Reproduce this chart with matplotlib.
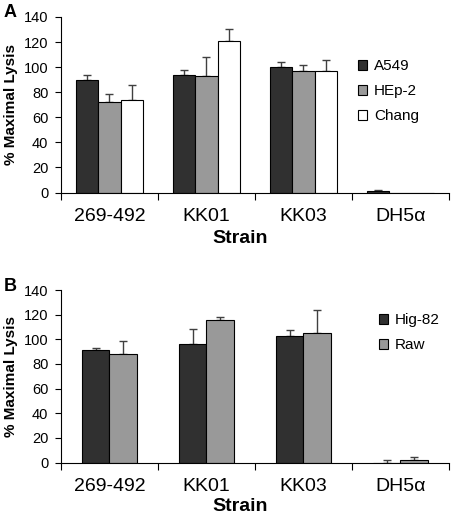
import matplotlib
matplotlib.use("Agg")
import matplotlib.pyplot as plt
import numpy as np

plt.rcParams['font.family'] = ['Liberation Sans', 'DejaVu Sans']

strains = ["269-492", "KK01", "KK03", "DH5\u03b1"]

# Panel A
a_series = ["A549", "HEp-2", "Chang"]
a_vals = [[90, 94, 100, 1.3],
          [72, 93, 97, 0],
          [74, 120.5, 97, 0]]
a_err = [[4, 3.5, 4, 1],
         [6.5, 15, 4.5, 0],
         [12, 10, 9, 0]]

# Panel B
b_series = ["Hig-82", "Raw"]
b_vals = [[91, 96, 103, 0],
          [88, 115.5, 105.5, 2.2]]
b_err = [[2.2, 12.5, 4.7, 2.4],
         [11, 2.5, 18, 2.4]]

colors = ["#303030", "#999999", "#ffffff"]
yticks = [0, 20, 40, 60, 80, 100, 120, 140]

W, H = 452, 515
fig = plt.figure(figsize=(W / 100, H / 100), dpi=100)


def axes_px(left, top, right, bottom):
    return fig.add_axes([left / W, 1 - bottom / H, (right - left) / W, (bottom - top) / H])


axA = axes_px(61, 17, 449, 192.5)
axB = axes_px(61, 290, 449, 462.5)


def draw(ax, series, vals, errs, width, leg_left_px, leg_top_px, top_px, bottom_px, strain_off):
    x = np.arange(len(strains))
    n = len(series)
    handles = []
    for i, (name, v, e) in enumerate(zip(series, vals, errs)):
        pos = x + (i - (n - 1) / 2) * width
        v = np.array(v, dtype=float)
        e = np.array(e, dtype=float)
        b = ax.bar(pos, v, width, color=colors[i], edgecolor="black",
                   linewidth=0.8, label=name, zorder=2)
        m = e > 0
        ax.errorbar(pos[m], v[m], yerr=[np.zeros(m.sum()), e[m]], fmt="none",
                    ecolor="#404040", elinewidth=1.0, capsize=3,
                    capthick=1.0, zorder=1)
        handles.append(b)
    ax.set_xlim(-0.5, len(strains) - 0.5)
    ax.set_ylim(0, 140)
    ax.set_yticks(yticks)
    ax.set_xticks(x)
    ax.set_xticklabels(strains, fontsize=14)
    ax.tick_params(axis="x", length=0, pad=11.5)
    ax.set_xticks(np.arange(len(strains) + 1) - 0.5, minor=True)
    ax.tick_params(axis="x", which="minor", length=5, direction="out", width=0.8)
    ax.tick_params(axis="y", labelsize=10.5, length=4, width=0.8, direction="out", pad=5)
    for s in ["top", "right"]:
        ax.spines[s].set_visible(False)
    ax.spines["left"].set_linewidth(0.8)
    ax.spines["bottom"].set_linewidth(0.8)
    h = bottom_px - top_px
    ax.set_xlabel("Strain", fontsize=14, fontweight="bold")
    ax.xaxis.label.set_va("center")
    ax.xaxis.set_label_coords((240 - 61) / 388, -strain_off / h)
    ax.set_ylabel("% Maximal Lysis", fontsize=11, fontweight="bold")
    ax.yaxis.label.set_va("center")
    ax.yaxis.set_label_coords((11 - 61) / 388, 0.5)
    ax.legend(handles=handles, loc="upper left",
              bbox_to_anchor=((leg_left_px - 61) / 388, 1 - (leg_top_px - top_px) / h),
              frameon=False, fontsize=11, handlelength=0.6, handleheight=0.6,
              handletextpad=0.45, labelspacing=0.72, borderaxespad=0)


draw(axA, a_series, a_vals, a_err, 0.23, 352, 53, 17, 192.5, 46)
draw(axB, b_series, b_vals, b_err, 0.285, 373, 307, 290, 462.5, 44)

fig.text(4 / W, 0.992, "A", fontsize=13, fontweight="bold", va="top")
fig.text(4 / W, 0.460, "B", fontsize=13, fontweight="bold", va="top")

fig.savefig("out.png", dpi=100)
